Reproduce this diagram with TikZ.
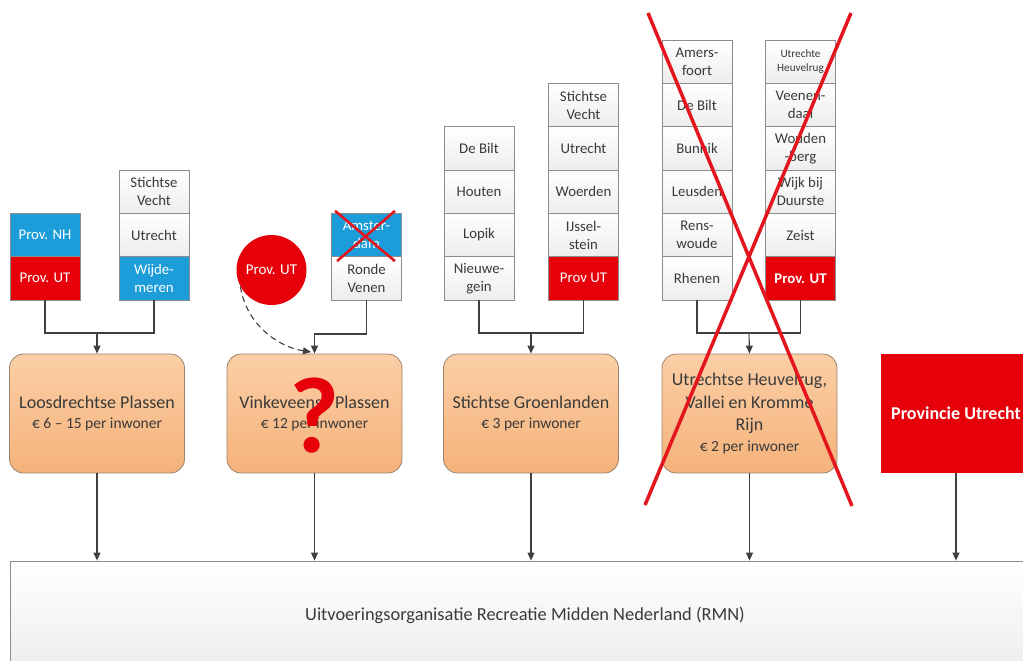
\documentclass[tikz,border=0pt]{standalone}
\usepackage{fontspec}
\setmainfont{Carlito}
\usetikzlibrary{arrows.meta}
\definecolor{cblue}{HTML}{1C9DD9}
\definecolor{cred}{HTML}{E6000A}
\definecolor{credx}{HTML}{E3161E}
\definecolor{corangeT}{HTML}{FBCFA6}
\definecolor{corangeB}{HTML}{F5B27A}
\definecolor{cobord}{HTML}{9A8470}
\definecolor{cborder}{HTML}{8C8C8C}
\definecolor{ctext}{HTML}{3A3A3A}
\definecolor{cline}{HTML}{404040}
\begin{document}
\begin{tikzpicture}[x=1pt,y=-1pt,
  cell/.style={draw=cborder, line width=0.8pt, minimum width=70pt, minimum height=43.4pt,
    inner sep=0pt, align=center, font=\fontsize{14.8}{18}\selectfont, text=ctext},
  wcell/.style={cell, top color=white, bottom color=gray!14},
  bcell/.style={cell, fill=cblue, text=white},
  rcell/.style={cell, fill=cred, text=white},
  obox/.style={draw=cobord, line width=0.8pt, rounded corners=14pt, top color=corangeT,
    bottom color=corangeB, minimum width=175pt, minimum height=119pt, inner sep=0pt,
    align=center, text=ctext, font=\fontsize{18}{22.5}\selectfont},
  conn/.style={draw=cline, line width=1.1pt},
  arr/.style={conn, -{Triangle[length=8pt,width=7pt]}},
  darr/.style={conn, dashed, dash pattern=on 6pt off 4pt, -{Triangle[length=8pt,width=7pt]}},
  redx/.style={draw=credx, line width=3.5pt},
  smallx/.style={draw=credx, line width=2.6pt}
]
\useasboundingbox (0,0) rectangle (1023,661);
\clip (0,0) rectangle (1023,661);
\fill[white] (0,0) rectangle (1023,661);

% ---------- column 1
\node[bcell] (c1a) at (45,235) {Prov. NH};
\node[rcell] (c1b) at (45,278.3) {Prov. UT};
\node[wcell] (c1c) at (154,191.7) {Stichtse\\Vecht};
\node[wcell] (c1d) at (154,235) {Utrecht};
\node[bcell] (c1e) at (154,278.3) {Wijde-\\meren};
\node[obox] (b1) at (97,413.5) {Loosdrechtse Plassen\\[-2pt]{\fontsize{15.5}{18}\selectfont € 6 – 15 per inwoner}};
\coordinate (j1) at (97,333);
\draw[conn] (c1b.south) |- (j1) -| (c1e.south);
\draw[arr] (j1) -- (b1.north);

% ---------- column 2
\node[circle, fill=cred, minimum size=70pt, inner sep=0pt, text=white,
  font=\fontsize{15}{18}\selectfont] (circ) at (271.5,270) {Prov. UT};
\node[bcell] (c2a) at (366.5,235) {Amster-\\dam};
\node[wcell] (c2b) at (366.5,278.3) {Ronde\\Venen};
\draw[smallx] ([shift={(4,-2)}]c2a.north west) -- ([shift={(-7,4)}]c2a.south east);
\draw[smallx] ([shift={(-7,-2)}]c2a.north east) -- ([shift={(6,4)}]c2a.south west);
\node[obox] (b2) at (314.5,413.5) {Vinkeveense Plassen\\[-2pt]{\fontsize{15.5}{18}\selectfont € 12 per inwoner}};
\coordinate (j2) at (314.5,334);
\draw[arr] (c2b.south) |- (j2) -- (b2.north);
\coordinate (d2) at (311,352);
\draw[darr] (circ.208) .. controls (246,324) and (278,347) .. (d2);
\node[text=cred, font=\fontsize{108}{108}\selectfont\bfseries, inner sep=0pt] (q) at (315,416) {?};

% ---------- column 3
\node[wcell] (c3a) at (479,148.3) {De Bilt};
\node[wcell] (c3b) at (479,191.7) {Houten};
\node[wcell] (c3c) at (479,235) {Lopik};
\node[wcell] (c3d) at (479,278.3) {Nieuwe-\\gein};
\node[wcell] (c3e) at (583.5,105) {Stichtse\\Vecht};
\node[wcell] (c3f) at (583.5,148.3) {Utrecht};
\node[wcell] (c3g) at (583.5,191.7) {Woerden};
\node[wcell] (c3h) at (583.5,235) {IJssel-\\stein};
\node[rcell] (c3i) at (583.5,278.3) {Prov UT};
\node[obox] (b3) at (531,413.5) {Stichtse Groenlanden\\[-2pt]{\fontsize{15.5}{18}\selectfont € 3 per inwoner}};
\coordinate (j3) at (531,333);
\draw[conn] (c3d.south) |- (j3) -| (c3i.south);
\draw[arr] (j3) -- (b3.north);

% ---------- column 4
\node[wcell] (c4a) at (697,61.7) {Amers-\\foort};
\node[wcell] (c4b) at (697,105) {De Bilt};
\node[wcell] (c4c) at (697,148.3) {Bunnik};
\node[wcell] (c4d) at (697,191.7) {Leusden};
\node[wcell] (c4e) at (697,235) {Rens-\\woude};
\node[wcell] (c4f) at (697,278.3) {Rhenen};
\node[wcell, font=\fontsize{11.2}{14}\selectfont] (c4g) at (800.5,61.7) {Utrechte\\Heuvelrug};
\node[wcell] (c4h) at (800.5,105) {Veenen-\\daal};
\node[wcell] (c4i) at (800.5,148.3) {Wouden\\-berg};
\node[wcell] (c4j) at (800.5,191.7) {Wijk bij\\Duurste};
\node[wcell] (c4k) at (800.5,235) {Zeist};
\node[rcell, font=\fontsize{14.8}{18}\selectfont\bfseries] (c4l) at (800.5,278.3) {Prov. UT};
\node[obox] (b4) at (749.5,413.5) {Utrechtse Heuvelrug,\\Vallei en Kromme\\Rijn\\[-2pt]{\fontsize{15.5}{18}\selectfont € 2 per inwoner}};
\coordinate (j4) at (749,333);
\draw[conn] (c4f.south) |- (j4) -| (c4l.south);
\draw[arr] (j4) -- (b4.north);

% ---------- column 5
\node[fill=cred, minimum width=150pt, minimum height=119pt, inner sep=0pt, text=white,
  font=\fontsize{18}{22}\selectfont\bfseries] (b5) at (956,413.5) {Provincie Utrecht};

% ---------- bottom
\node[draw=cborder, line width=0.8pt, top color=white, bottom color=gray!14,
  minimum width=1030pt, minimum height=108pt, inner sep=0pt, text=ctext,
  font=\fontsize{18.4}{22}\selectfont] (rmn) at (525,615) {Uitvoeringsorganisatie Recreatie Midden Nederland (RMN)};
\foreach \b in {b1,b2,b3,b4,b5}
  \draw[arr] (\b.south) -- (\b.south |- rmn.north);

% ---------- big red cross
\coordinate (xa) at (648,13);
\coordinate (xb) at (852,506);
\coordinate (xc) at (851,13);
\coordinate (xd) at (645,505);
\draw[redx] (xa) -- (xb);
\draw[redx] (xc) -- (xd);
\end{tikzpicture}
\end{document}
